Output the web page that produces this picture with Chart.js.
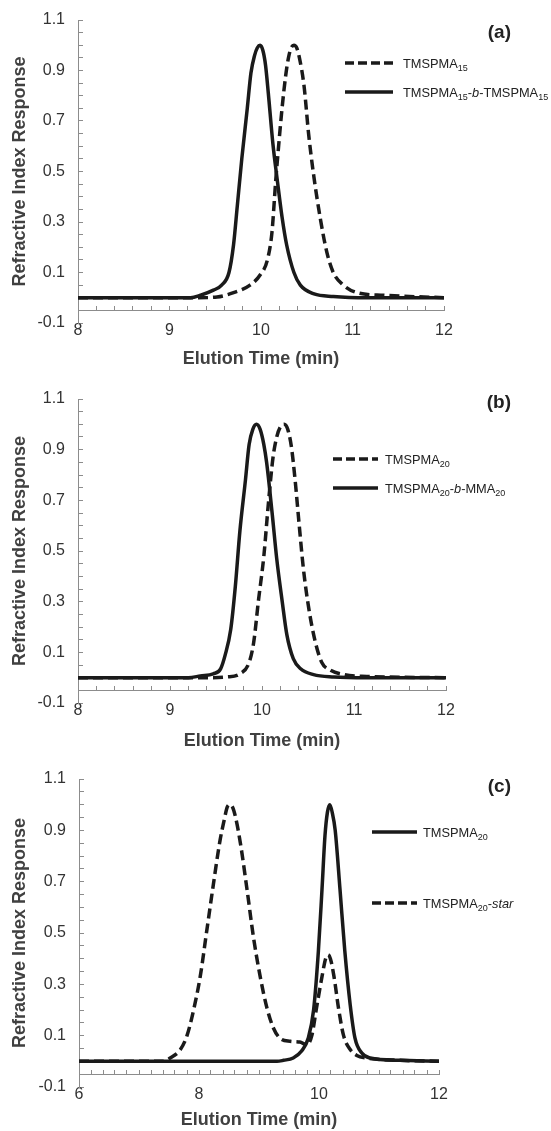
<!DOCTYPE html>
<html>
<head>
<meta charset="utf-8">
<script src="https://cdn.jsdelivr.net/npm/chart.js@4.4.0/dist/chart.umd.min.js"></script>
<style>
  body { margin: 0; background: #fff; }
  .panel { position: relative; width: 551px; }
</style>
</head>
<body>
<div class="panel" style="height:375px"><canvas id="chartA"></canvas></div>
<div class="panel" style="height:375px"><canvas id="chartB"></canvas></div>
<div class="panel" style="height:381px"><canvas id="chartC"></canvas></div>
<script>
// (a) TMSPMA15 homopolymer (dashed) and TMSPMA15-b-TMSPMA15 (solid)
const aHomoTime = [8, 9.3, 9.52, 9.70, 9.88, 9.99, 10.07, 10.12, 10.16, 10.19, 10.23, 10.27, 10.30, 10.33, 10.36, 10.39, 10.42, 10.47, 10.52, 10.57, 10.65, 10.72, 10.79, 10.90, 11.05, 11.34, 12];
const aHomoResp = [0, 0, 0.003, 0.02, 0.05, 0.09, 0.15, 0.26, 0.46, 0.59, 0.75, 0.88, 0.95, 0.99, 1.0, 0.99, 0.95, 0.84, 0.65, 0.50, 0.31, 0.18, 0.10, 0.05, 0.02, 0.01, 0];
const aBlockTime = [8, 9.23, 9.34, 9.48, 9.57, 9.65, 9.70, 9.74, 9.79, 9.85, 9.89, 9.93, 9.96, 9.99, 10.02, 10.05, 10.08, 10.13, 10.18, 10.23, 10.28, 10.36, 10.43, 10.58, 10.79, 11.16, 12];
const aBlockResp = [0, 0, 0.01, 0.03, 0.05, 0.10, 0.21, 0.36, 0.55, 0.75, 0.89, 0.96, 0.99, 1.0, 0.98, 0.92, 0.81, 0.61, 0.46, 0.32, 0.21, 0.10, 0.05, 0.015, 0.005, 0, 0];

// (b) TMSPMA20 (dashed) and TMSPMA20-b-MMA20 (solid)
const bHomoTime = [8, 9.4, 9.62, 9.76, 9.86, 9.91, 9.96, 10.02, 10.07, 10.12, 10.16, 10.20, 10.24, 10.28, 10.32, 10.36, 10.40, 10.45, 10.51, 10.58, 10.65, 10.74, 10.89, 11.14, 12];
const bHomoResp = [0, 0, 0.003, 0.015, 0.06, 0.14, 0.30, 0.48, 0.69, 0.87, 0.95, 0.99, 1.0, 0.98, 0.91, 0.78, 0.62, 0.43, 0.27, 0.14, 0.06, 0.03, 0.012, 0.005, 0];
const bBlockTime = [8, 9.2, 9.33, 9.47, 9.55, 9.60, 9.66, 9.71, 9.76, 9.82, 9.86, 9.90, 9.94, 9.98, 10.02, 10.05, 10.11, 10.16, 10.22, 10.27, 10.34, 10.42, 10.56, 10.78, 11.14, 12];
const bBlockResp = [0, 0, 0.007, 0.015, 0.035, 0.09, 0.19, 0.36, 0.58, 0.78, 0.92, 0.98, 1.0, 0.98, 0.92, 0.85, 0.65, 0.47, 0.30, 0.17, 0.075, 0.035, 0.012, 0.003, 0, 0];

// (c) TMSPMA20 (solid) and TMSPMA20-star (dashed)
const cHomoTime = [6, 9.3, 9.41, 9.57, 9.71, 9.82, 9.91, 9.99, 10.05, 10.10, 10.14, 10.18, 10.22, 10.27, 10.35, 10.43, 10.52, 10.60, 10.71, 10.85, 11.35, 12];
const cHomoResp = [0, 0, 0.004, 0.013, 0.04, 0.09, 0.20, 0.43, 0.67, 0.88, 0.97, 1.0, 0.97, 0.90, 0.67, 0.43, 0.22, 0.09, 0.033, 0.013, 0.004, 0];
const cStarTime = [6, 7.4, 7.52, 7.69, 7.80, 7.91, 8.02, 8.13, 8.24, 8.35, 8.42, 8.47, 8.51, 8.56, 8.61, 8.69, 8.80, 8.91, 9.02, 9.13, 9.24, 9.35, 9.52, 9.68, 9.80, 9.88, 9.96, 10.05, 10.11, 10.15, 10.19, 10.25, 10.33, 10.41, 10.52, 10.63, 10.79, 11.35, 12];
const cStarResp = [0, 0, 0.013, 0.046, 0.10, 0.20, 0.33, 0.51, 0.69, 0.86, 0.94, 0.99, 1.0, 0.99, 0.95, 0.85, 0.67, 0.48, 0.33, 0.21, 0.13, 0.09, 0.078, 0.075, 0.065, 0.10, 0.21, 0.33, 0.40, 0.415, 0.40, 0.33, 0.20, 0.10, 0.046, 0.023, 0.013, 0.004, 0];

const LINE = '#1a1a1a';
const AXIS = '#8c8c8c';
const DASH = [10, 5];

function pts(xs, ys) {
  return xs.map((x, i) => ({ x: x, y: ys[i] }));
}

// legend drawn by hand so the subscripts stay subscripts
const legendPlugin = {
  id: 'gpcLegend',
  afterDraw(chart, args, o) {
    const ctx = chart.ctx;
    ctx.save();
    o.items.forEach(item => {
      ctx.strokeStyle = LINE;
      ctx.lineWidth = 3.5;
      ctx.setLineDash(item.dashed ? [9, 4] : []);
      ctx.beginPath();
      ctx.moveTo(o.x0, item.y);
      ctx.lineTo(o.x1, item.y);
      ctx.stroke();
      ctx.setLineDash([]);
      let x = o.tx;
      ctx.fillStyle = '#222';
      ctx.textBaseline = 'alphabetic';
      item.parts.forEach(p => {
        const sub = p[1] === 's';
        const it = p[1] === 'i';
        ctx.font = (it ? 'italic ' : '') + (sub ? '9px' : '12.8px') + ' "Liberation Sans Narrow", "Liberation Sans", sans-serif';
        ctx.fillText(p[0], x, item.y + 4.5 + (sub ? 3 : 0));
        x += ctx.measureText(p[0]).width;
      });
    });
    ctx.font = 'bold 19px "Liberation Sans", Arial, sans-serif';
    ctx.fillStyle = '#222';
    ctx.textAlign = 'right';
    ctx.textBaseline = 'middle';
    ctx.fillText(o.tag, 511, o.tagY);
    ctx.restore();
  }
};

function makeChart(id, cfg) {
  const datasets = cfg.series.map(s => ({
    label: s.label,
    data: pts(s.x, s.y),
    borderColor: LINE,
    backgroundColor: LINE,
    borderWidth: 3.5,
    borderDash: s.dashed ? DASH : [],
    pointRadius: 0,
    showLine: true,
    fill: false,
    cubicInterpolationMode: 'monotone'
  }));
  const a = cfg.area;
  return new Chart(document.getElementById(id).getContext('2d'), {
    type: 'scatter',
    data: { datasets: datasets },
    plugins: [legendPlugin],
    options: {
      responsive: true,
      maintainAspectRatio: false,
      animation: false,
      layout: {
        padding: { left: 0, top: a.top, right: 551 - a.right, bottom: cfg.height - a.bottom }
      },
      plugins: {
        legend: { display: false },
        tooltip: { enabled: false },
        gpcLegend: cfg.legend
      },
      scales: {
        x: {
          type: 'linear',
          position: { y: -0.05 },
          min: cfg.xMin,
          max: cfg.xMax,
          border: { color: AXIS, width: 1 },
          grid: { drawOnChartArea: false, tickLength: -5, color: AXIS },
          ticks: {
            stepSize: 0.2,
            autoSkip: false,
            maxRotation: 0,
            padding: 16,
            color: '#333',
            font: { family: '"Liberation Sans", Arial, sans-serif', size: 16 },
            callback: v => {
              const r = Math.round(v);
              return Math.abs(v - r) < 1e-6 && r % cfg.labelEvery === 0 ? String(r) : '';
            }
          },
          title: {
            display: true,
            text: 'Elution Time (min)',
            color: '#404040',
            font: { family: '"Liberation Sans", Arial, sans-serif', size: 18, weight: 'bold' },
            padding: { top: cfg.titlePad, bottom: 0 }
          }
        },
        y: {
          min: -0.1,
          max: 1.1,
          afterFit: s => {
            s.width = a.left;
            s.paddingTop = 0;
            s.paddingBottom = 0;
          },
          border: { color: AXIS, width: 1 },
          grid: { drawOnChartArea: false, tickLength: -5, color: AXIS },
          ticks: {
            stepSize: 0.05,
            autoSkip: false,
            padding: 18,
            color: '#333',
            font: { family: '"Liberation Sans", Arial, sans-serif', size: 16 },
            callback: v => {
              const k = Math.round(v * 100);
              return Math.abs(k % 20) === 10 ? (k / 100).toFixed(1) : '';
            }
          },
          title: {
            display: true,
            text: 'Refractive Index Response',
            color: '#404040',
            font: { family: '"Liberation Sans", Arial, sans-serif', size: 18, weight: 'bold' },
            padding: { top: 9, bottom: 0 }
          }
        }
      }
    }
  });
}

makeChart('chartA', {
  height: 375,
  area: { top: 20, bottom: 323, left: 78, right: 444 },
  xMin: 8, xMax: 12, labelEvery: 1, titlePad: -8,
  series: [
    { label: 'TMSPMA15', x: aHomoTime, y: aHomoResp, dashed: true },
    { label: 'TMSPMA15-b-TMSPMA15', x: aBlockTime, y: aBlockResp, dashed: false }
  ],
  legend: {
    x0: 345, x1: 393, tx: 403, tag: '(a)', tagY: 33,
    items: [
      { y: 63, dashed: true, parts: [['TMSPMA', 'n'], ['15', 's']] },
      { y: 92, dashed: false, parts: [['TMSPMA', 'n'], ['15', 's'], ['-', 'n'], ['b', 'i'], ['-TMSPMA', 'n'], ['15', 's']] }
    ]
  }
});

makeChart('chartB', {
  height: 375,
  area: { top: 24, bottom: 328, left: 78, right: 446 },
  xMin: 8, xMax: 12, labelEvery: 1, titlePad: -6,
  series: [
    { label: 'TMSPMA20', x: bHomoTime, y: bHomoResp, dashed: true },
    { label: 'TMSPMA20-b-MMA20', x: bBlockTime, y: bBlockResp, dashed: false }
  ],
  legend: {
    x0: 333, x1: 378, tx: 385, tag: '(b)', tagY: 28,
    items: [
      { y: 84, dashed: true, parts: [['TMSPMA', 'n'], ['20', 's']] },
      { y: 113, dashed: false, parts: [['TMSPMA', 'n'], ['20', 's'], ['-', 'n'], ['b', 'i'], ['-MMA', 'n'], ['20', 's']] }
    ]
  }
});

makeChart('chartC', {
  height: 381,
  area: { top: 29, bottom: 337, left: 79, right: 439 },
  xMin: 6, xMax: 12, labelEvery: 2, titlePad: -11,
  series: [
    { label: 'TMSPMA20', x: cHomoTime, y: cHomoResp, dashed: false },
    { label: 'TMSPMA20-star', x: cStarTime, y: cStarResp, dashed: true }
  ],
  legend: {
    x0: 372, x1: 417, tx: 423, tag: '(c)', tagY: 37,
    items: [
      { y: 82, dashed: false, parts: [['TMSPMA', 'n'], ['20', 's']] },
      { y: 153, dashed: true, parts: [['TMSPMA', 'n'], ['20', 's'], ['-', 'n'], ['star', 'i']] }
    ]
  }
});
</script>
</body>
</html>
